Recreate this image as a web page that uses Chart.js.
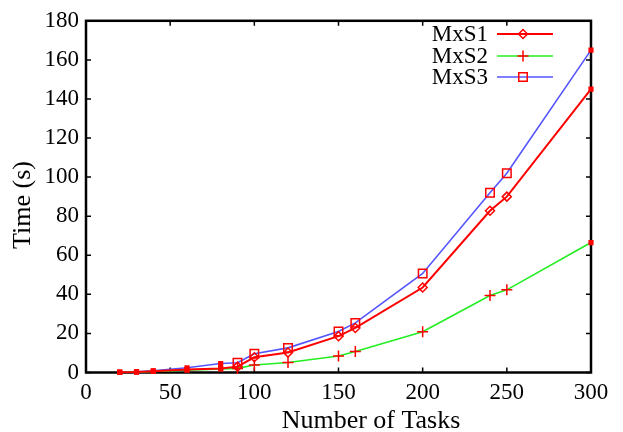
<!DOCTYPE html>
<html>
<head>
<meta charset="utf-8">
<script src="https://cdn.jsdelivr.net/npm/chart.js@4.4.0/dist/chart.umd.min.js"></script>
<style>
  html, body { margin: 0; padding: 0; background: #fff; }
  #wrap { width: 623px; height: 432px; }
</style>
</head>
<body>
<div id="wrap"><canvas id="tasks-chart" width="623" height="432"></canvas></div>
<script>
var tasks = [20, 30, 40, 60, 80, 90, 100, 120, 150, 160, 200, 240, 250, 300];
var mxs1 = [0.1, 0.3, 0.7, 1.5, 2.0, 3.0, 7.8, 10.2, 18.6, 22.8, 43.5, 82.8, 90, 145];
var mxs2 = [0.1, 0.2, 0.5, 1.2, 1.8, 2.1, 3.8, 5.1, 8.4, 10.8, 20.9, 39.4, 42.3, 66.5];
var mxs3 = [0.2, 0.4, 0.9, 2.4, 4.6, 5.0, 9.6, 12.6, 21, 25.4, 50.7, 92, 102, 165];
var xTicks = [0, 50, 100, 150, 200, 250, 300];
var yTicks = [0, 20, 40, 60, 80, 100, 120, 140, 160, 180];
var xTitle = 'Number of Tasks';
var yTitle = 'Time (s)';

var serif = "'Liberation Serif', 'Times New Roman', serif";

function toPoints(values) {
    var pts = [];
    for (var i = 0; i < tasks.length; i++) {
        pts.push({ x: tasks[i], y: values[i] });
    }
    return pts;
}

// small filled dots for the cramped left points and the last point
function isSmall(ctx) {
    var t = tasks[ctx.dataIndex];
    return t <= 80 || t == 300;
}

function makeSet(label, values, color, width, marker, markerRadius) {
    return {
        label: label,
        data: toPoints(values),
        showLine: true,
        borderColor: color,
        borderWidth: width,
        clip: false,
        legendMarker: marker,
        legendRadius: markerRadius,
        pointStyle: function (ctx) { return isSmall(ctx) ? 'rect' : marker; },
        pointRadius: function (ctx) { return isSmall(ctx) ? 2.6 : markerRadius; },
        pointBackgroundColor: function (ctx) { return isSmall(ctx) ? '#ff0000' : 'rgba(0,0,0,0)'; },
        pointBorderColor: '#ff0000',
        pointBorderWidth: 1.5,
        pointHoverRadius: markerRadius
    };
}

var frameAndLegend = {
    id: 'frameAndLegend',
    beforeDatasetsDraw: function (chart) {
        var ctx = chart.ctx;
        var a = chart.chartArea;
        var xs = chart.scales.x, ys = chart.scales.y;
        ctx.save();
        ctx.strokeStyle = '#000';
        ctx.lineWidth = 1.5;
        for (var i = 0; i < xTicks.length; i++) {
            var px = xs.getPixelForValue(xTicks[i]);
            ctx.beginPath();
            ctx.moveTo(px, a.bottom); ctx.lineTo(px, a.bottom - 5);
            ctx.moveTo(px, a.top); ctx.lineTo(px, a.top + 5);
            ctx.stroke();
        }
        for (var j = 0; j < yTicks.length; j++) {
            var py = ys.getPixelForValue(yTicks[j]);
            ctx.beginPath();
            ctx.moveTo(a.left, py); ctx.lineTo(a.left + 5, py);
            ctx.moveTo(a.right, py); ctx.lineTo(a.right - 5, py);
            ctx.stroke();
        }
        ctx.lineWidth = 2.5;
        ctx.strokeRect(a.left, a.top, a.right - a.left, a.bottom - a.top);

        // axis titles
        ctx.fillStyle = '#000';
        ctx.font = '26px ' + serif;
        ctx.textAlign = 'center';
        ctx.textBaseline = 'alphabetic';
        ctx.fillText(xTitle, 371, 428);
        ctx.translate(30, 205);
        ctx.rotate(-Math.PI / 2);
        ctx.fillText(yTitle, 0, 0);
        ctx.restore();
    },
    afterDatasetsDraw: function (chart) {
        var ctx = chart.ctx;
        var rows = [34, 56, 77];
        ctx.save();
        ctx.font = '23px ' + serif;
        ctx.textAlign = 'right';
        ctx.textBaseline = 'middle';
        chart.data.datasets.forEach(function (ds, i) {
            var y = rows[i];
            ctx.fillStyle = '#000';
            ctx.fillText(ds.label, 488, y + 1);
            ctx.strokeStyle = ds.borderColor;
            ctx.lineWidth = ds.borderWidth;
            ctx.beginPath();
            ctx.moveTo(497, y); ctx.lineTo(553, y);
            ctx.stroke();
            ctx.strokeStyle = '#ff0000';
            ctx.fillStyle = 'rgba(0,0,0,0)';
            ctx.lineWidth = 1.5;
            Chart.helpers.drawPoint(ctx, { pointStyle: ds.legendMarker, radius: ds.legendRadius, rotation: 0, borderWidth: 1.5 }, 523, y);
        });
        ctx.restore();
    }
};

var set1 = makeSet('MxS1', mxs1, '#ff0000', 2, 'rectRot', 4.5);
var set2 = makeSet('MxS2', mxs2, '#22ee22', 1.6, 'cross', 5.5);
var set3 = makeSet('MxS3', mxs3, '#5555ff', 1.6, 'rect', 6);

var context = document.getElementById('tasks-chart').getContext('2d');
var myChart = new Chart(context, {
    type: 'scatter',
    data: { datasets: [set1, set2, set3] },
    options: {
        responsive: false,
        animation: false,
        layout: { padding: { top: 19, right: 32, left: 0, bottom: 0 } },
        plugins: {
            legend: { display: false },
            tooltip: { enabled: false }
        },
        scales: {
            x: {
                type: 'linear',
                min: 0,
                max: 300,
                afterFit: function (scale) { scale.height = 59.5; },
                afterBuildTicks: function (scale) {
                    scale.ticks = xTicks.map(function (v) { return { value: v }; });
                },
                grid: { display: false, drawTicks: false },
                border: { display: false },
                ticks: {
                    color: '#000',
                    padding: 7,
                    maxRotation: 0,
                    font: { family: serif, size: 23 }
                }
            },
            y: {
                type: 'linear',
                min: 0,
                max: 180,
                afterFit: function (scale) { scale.width = 86; },
                afterBuildTicks: function (scale) {
                    scale.ticks = yTicks.map(function (v) { return { value: v }; });
                },
                grid: { display: false, drawTicks: false },
                border: { display: false },
                ticks: {
                    color: '#000',
                    padding: 7,
                    font: { family: serif, size: 23 }
                }
            }
        }
    },
    plugins: [frameAndLegend]
});
</script>
</body>
</html>
